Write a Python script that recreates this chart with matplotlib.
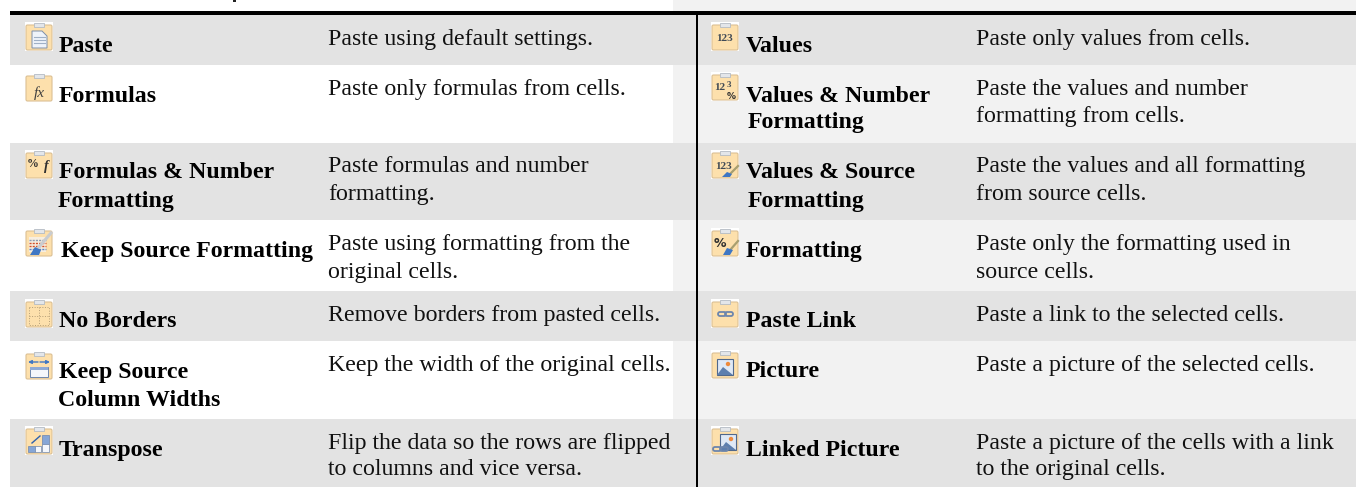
import matplotlib
matplotlib.use('Agg')
import matplotlib.pyplot as plt
from matplotlib.patches import Rectangle, FancyBboxPatch, Polygon, Circle

# Table content
LEFT_NAMES = [['Paste'], ['Formulas'], ['Formulas & Number', 'Formatting'],
              ['Keep Source Formatting'], ['No Borders'],
              ['Keep Source', 'Column Widths'], ['Transpose']]
LEFT_DESCS = [['Paste using default settings.'],
              ['Paste only formulas from cells.'],
              ['Paste formulas and number', 'formatting.'],
              ['Paste using formatting from the', 'original cells.'],
              ['Remove borders from pasted cells.'],
              ['Keep the width of the original cells.'],
              ['Flip the data so the rows are flipped', 'to columns and vice versa.']]
RIGHT_NAMES = [['Values'], ['Values & Number', 'Formatting'],
               ['Values & Source', 'Formatting'], ['Formatting'], ['Paste Link'],
               ['Picture'], ['Linked Picture']]
RIGHT_DESCS = [['Paste only values from cells.'],
               ['Paste the values and number', 'formatting from cells.'],
               ['Paste the values and all formatting', 'from source cells.'],
               ['Paste only the formatting used in', 'source cells.'],
               ['Paste a link to the selected cells.'],
               ['Paste a picture of the selected cells.'],
               ['Paste a picture of the cells with a link', 'to the original cells.']]
LEFT_ICONS = ['page', 'fx', 'pctfx', 'brush', 'grid', 'widths', 'swap']
RIGHT_ICONS = ['123', '123pct', '123brush', 'pctbrush', 'link', 'pic', 'linkpic']

# Layout in pixels
ROW_EDGES = [15, 65, 143, 220, 291, 341, 419, 487]
LEFT_ICON_TOPS = [22, 73, 150, 228, 299, 351, 426]
RIGHT_ICON_TOPS = [22, 72, 150, 228, 299, 350, 426]
LEFT_NAME_Y = [[52], [102], [178, 207], [257], [327], [378, 406], [456]]
RIGHT_NAME_Y = [[52], [102, 128], [178, 207], [257], [327], [377], [456]]
LEFT_NAME_X = [[59], [59], [59, 58], [61], [59], [59, 58], [59]]
RIGHT_NAME_X = [[746], [746, 748], [746, 748], [746], [746], [746], [746]]
DESC_Y = [[45], [95, 122], [172, 200], [250, 278], [321], [371], [449, 475]]

SERIF = 'Liberation Serif'
GREY = '#e3e3e3'
PANEL = '#f2f2f2'
NAME_SIZE = 17.2
DESC_SIZE = 17.2


def draw_pic(ax, x, y, z):
    ax.add_patch(Rectangle((x, y), 16, 16, fc='#dfe9f6', ec='#50688c', lw=0.8, zorder=z))
    ax.add_patch(Polygon([(x, y + 16), (x + 6, y + 8), (x + 16, y + 16)], fc='#5d7fae', ec='none', zorder=z))
    ax.add_patch(Circle((x + 11, y + 5), 2.2, fc='#ee8a3c', ec='none', zorder=z + 1))


def draw_icon(ax, x, y, kind):
    w, h = 28, 29
    ax.add_patch(Rectangle((x, y), w, h, fc='white', ec='none', zorder=2))
    ax.add_patch(FancyBboxPatch((x + 1, y + 3), w - 2, h - 4, boxstyle='round,pad=0,rounding_size=1.5',
                                fc='#fde0ac', ec='#dcc094', lw=0.8, zorder=3))
    ax.add_patch(Rectangle((x + 9, y + 1), 10, 4, fc='#e3e6ea', ec='#b4bbc3', lw=0.6, zorder=4))
    z = 5
    if kind == 'page':
        ax.add_patch(Polygon([(x + 7, y + 9), (x + 17, y + 9), (x + 22, y + 14), (x + 22, y + 26), (x + 7, y + 26)],
                             fc='#eef3fa', ec='#7d8fa8', lw=0.7, zorder=z))
        for dy in (15, 18, 21):
            ax.plot([x + 9, x + 20], [y + dy, y + dy], color='#9fb0c6', lw=0.8, zorder=z + 1)
    elif kind == 'fx':
        ax.text(x + 14, y + 24, 'fx', family=SERIF, style='italic', fontsize=11, ha='center', color='#404040', zorder=z)
    elif kind == 'pctfx':
        ax.text(x + 8, y + 17, '%', family=SERIF, weight='bold', fontsize=8.5, ha='center', color='#303030', zorder=z)
        ax.text(x + 21, y + 20, 'f', family=SERIF, style='italic', weight='bold', fontsize=10, ha='center', color='#303030', zorder=z)
    elif kind == 'brush':
        ax.add_patch(Rectangle((x + 4, y + 9), 17, 15, fc='#f7eee0', ec='none', zorder=z))
        for dy, c in ((12, '#8f9db0'), (15, '#d0502a'), (18, '#d0502a'), (21, '#5c86c4')):
            ax.plot([x + 4, x + 21], [y + dy, y + dy], color=c, lw=1, ls=(0, (1.5, 0.8)), zorder=z + 1)
        ax.plot([x + 26, x + 13], [y + 5, y + 20], color='#c9ccd0', lw=2.2, zorder=z + 2)
        ax.add_patch(Polygon([(x + 5, y + 27), (x + 10, y + 19), (x + 16, y + 22), (x + 14, y + 27)],
                             fc='#3f77c4', ec='none', zorder=z + 3))
    elif kind == 'grid':
        ax.add_patch(Rectangle((x + 4, y + 8), 20, 18, fc='none', ec='#b59f78', lw=0.7, ls=':', zorder=z))
        ax.plot([x + 14, x + 14], [y + 8, y + 26], color='#b59f78', lw=0.7, ls=':', zorder=z)
        ax.plot([x + 4, x + 24], [y + 17, y + 17], color='#b59f78', lw=0.7, ls=':', zorder=z)
    elif kind == 'widths':
        ax.annotate('', xy=(x + 3, y + 11), xytext=(x + 13, y + 11),
                    arrowprops=dict(arrowstyle='-|>', color='#3f77c4', lw=1, mutation_scale=5, shrinkA=0, shrinkB=0), zorder=z)
        ax.annotate('', xy=(x + 25, y + 11), xytext=(x + 15, y + 11),
                    arrowprops=dict(arrowstyle='-|>', color='#3f77c4', lw=1, mutation_scale=5, shrinkA=0, shrinkB=0), zorder=z)
        ax.add_patch(Rectangle((x + 5, y + 16), 18, 10, fc='#f4f7fc', ec='#6d86ad', lw=0.7, zorder=z))
        ax.add_patch(Rectangle((x + 5, y + 16), 18, 3, fc='#8eaad6', ec='none', zorder=z))
    elif kind == 'swap':
        ax.add_patch(Rectangle((x + 17, y + 9), 7, 9, fc='#86a6d6', ec='#6d86ad', lw=0.5, zorder=z))
        ax.add_patch(Rectangle((x + 17, y + 18), 7, 8, fc='#f4f7fc', ec='#6d86ad', lw=0.5, zorder=z))
        ax.add_patch(Rectangle((x + 3, y + 20), 7, 6, fc='#86a6d6', ec='#6d86ad', lw=0.5, zorder=z))
        ax.add_patch(Rectangle((x + 10, y + 20), 6, 6, fc='#f4f7fc', ec='#6d86ad', lw=0.5, zorder=z))
        ax.plot([x + 7, x + 15], [y + 17, y + 10], color='#2f62ad', lw=1, zorder=z)
    elif kind == '123':
        ax.text(x + 14, y + 19, '123', family=SERIF, weight='bold', fontsize=8, ha='center', color='#404a55', zorder=z)
    elif kind == '123pct':
        ax.text(x + 9, y + 18, '12', family=SERIF, weight='bold', fontsize=8, ha='center', color='#404a55', zorder=z)
        ax.text(x + 18, y + 15, '3', family=SERIF, weight='bold', fontsize=6.5, ha='center', color='#404a55', zorder=z)
        ax.text(x + 20, y + 27, '%', family='DejaVu Sans', weight='bold', fontsize=6.5, ha='center', color='#303030', zorder=z + 1)
    elif kind == '123brush':
        ax.text(x + 13, y + 19, '123', family=SERIF, weight='bold', fontsize=8, ha='center', color='#404a55', zorder=z)
        ax.plot([x + 27, x + 20], [y + 16, y + 23], color='#a89f70', lw=1.6, zorder=z)
        ax.add_patch(Polygon([(x + 11, y + 27), (x + 16, y + 22), (x + 21, y + 24), (x + 19, y + 27)],
                             fc='#3f77c4', ec='none', zorder=z))
    elif kind == 'pctbrush':
        ax.text(x + 9, y + 19, '%', family='DejaVu Sans', weight='bold', fontsize=9, ha='center', color='#303030', zorder=z)
        ax.plot([x + 27, x + 20], [y + 13, y + 21], color='#a89f70', lw=1.6, zorder=z)
        ax.add_patch(Polygon([(x + 12, y + 27), (x + 16, y + 20), (x + 22, y + 22), (x + 19, y + 27)],
                             fc='#3f77c4', ec='none', zorder=z))
    elif kind in ('link', 'linkpic'):
        yy = y + 13 if kind == 'link' else y + 21
        xx = x + 7 if kind == 'link' else x + 2
        if kind == 'linkpic':
            draw_pic(ax, x + 9, y + 8, z)
        for dx in (0, 7):
            ax.add_patch(FancyBboxPatch((xx + dx, yy), 8, 4, boxstyle='round,pad=0,rounding_size=2',
                                        fc='none', ec='#6d86ad', lw=1.3, zorder=z + 2))
    elif kind == 'pic':
        draw_pic(ax, x + 6, y + 9, z)


def fill_column(ax, names, descs, icons, icon_x, icon_tops, name_xs, name_ys, desc_x):
    for i in range(len(names)):
        draw_icon(ax, icon_x, icon_tops[i], icons[i])
        for j, line in enumerate(names[i]):
            ax.text(name_xs[i][j], name_ys[i][j], line, family=SERIF, weight='bold', fontsize=NAME_SIZE,
                    color='black', va='baseline', zorder=6)
        for j, line in enumerate(descs[i]):
            ax.text(desc_x, DESC_Y[i][j], line, family=SERIF, fontsize=DESC_SIZE, color='#111111',
                    va='baseline', zorder=6)


def main():
    fig = plt.figure(figsize=(13.56, 4.87), dpi=100)
    ax = fig.add_axes([0, 0, 1, 1])
    ax.set_xlim(0, 1356)
    ax.set_ylim(487, 0)
    ax.axis('off')

    # backgrounds
    ax.add_patch(Rectangle((673, 0), 683, 487, fc=PANEL, ec='none', zorder=0))
    for i in range(0, 7, 2):
        ax.add_patch(Rectangle((10, ROW_EDGES[i]), 1346, ROW_EDGES[i + 1] - ROW_EDGES[i], fc=GREY, ec='none', zorder=1))
    ax.add_patch(Rectangle((10, 11), 1346, 4, fc='black', ec='none', zorder=3))
    ax.add_patch(Rectangle((696, 15), 2, 472, fc='black', ec='none', zorder=3))
    # bit of a descender from the cropped heading above the table
    ax.add_patch(Rectangle((233, 0), 3, 2, fc='#222222', ec='none', zorder=3))

    fill_column(ax, LEFT_NAMES, LEFT_DESCS, LEFT_ICONS, 25, LEFT_ICON_TOPS, LEFT_NAME_X, LEFT_NAME_Y, 328)
    fill_column(ax, RIGHT_NAMES, RIGHT_DESCS, RIGHT_ICONS, 711, RIGHT_ICON_TOPS, RIGHT_NAME_X, RIGHT_NAME_Y, 976)
    fig.savefig('out.png', dpi=100)
    plt.close(fig)


if __name__ == '__main__':
    main()
